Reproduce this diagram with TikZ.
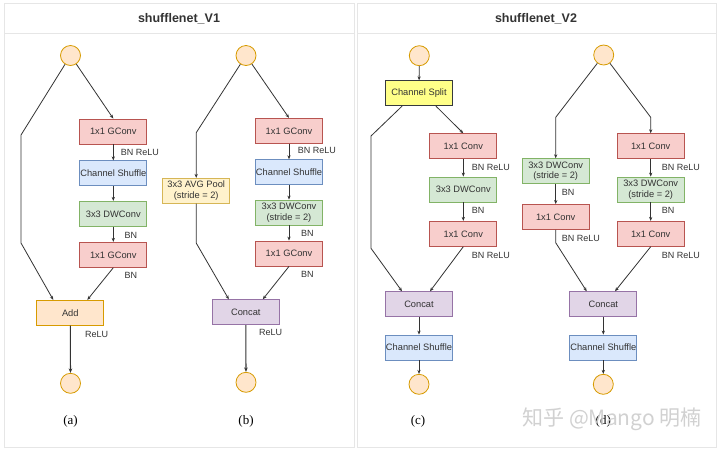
\documentclass[tikz,border=0pt]{standalone}
\usepackage{fontspec}
\setmainfont{Liberation Sans}
\newfontfamily\capfont{Liberation Serif}
\newfontfamily\cjk{Noto Sans CJK SC}
\usetikzlibrary{arrows.meta,calc}
\definecolor{redF}{HTML}{F8CECC}\definecolor{redD}{HTML}{B85450}
\definecolor{bluF}{HTML}{DAE8FC}\definecolor{bluD}{HTML}{6C8EBF}
\definecolor{grnF}{HTML}{D5E8D4}\definecolor{grnD}{HTML}{82B366}
\definecolor{orgF}{HTML}{FFE6CC}\definecolor{orgD}{HTML}{D79B00}
\definecolor{purF}{HTML}{E1D5E7}\definecolor{purD}{HTML}{9673A6}
\definecolor{yelF}{HTML}{FFF2CC}\definecolor{yelD}{HTML}{D6B656}
\definecolor{splF}{HTML}{FFFF88}\definecolor{splD}{HTML}{36393D}
\definecolor{ink}{HTML}{333333}
\definecolor{panelD}{HTML}{E6E6E6}
\tikzset{
  box/.style={draw, line width=0.8pt, minimum width=67pt, minimum height=25pt, inner sep=0pt,
    align=center, font=\fontsize{9.3}{10.5}\selectfont, text=ink},
  gconv/.style={box, fill=redF, draw=redD},
  shufbox/.style={box, fill=bluF, draw=bluD},
  dwbox/.style={box, fill=grnF, draw=grnD},
  addbox/.style={box, fill=orgF, draw=orgD},
  catbox/.style={box, fill=purF, draw=purD},
  poolbox/.style={box, fill=yelF, draw=yelD},
  splitbox/.style={box, fill=splF, draw=splD},
  circ/.style={circle, draw=orgD, fill=orgF, line width=0.8pt, minimum size=20pt, inner sep=0pt},
  lab/.style={anchor=west, inner sep=0pt, font=\fontsize{9}{10}\selectfont, text=ink},
  subcap/.style={inner sep=0pt, font=\capfont\fontsize{13}{14}\selectfont, text=black},
  ttl/.style={inner sep=0pt, font=\bfseries\fontsize{12.5}{14}\selectfont, text=ink},
  arr/.style={draw=ink, line width=0.8pt, -{Stealth[length=4pt,width=3.2pt]}},
  arrb/.style={draw=ink, line width=1.1pt, -{Stealth[length=4.5pt,width=3.6pt]}}
}
\begin{document}
\begin{tikzpicture}[x=1pt,y=-1pt]
\useasboundingbox (0,0) rectangle (720,451);
\fill[white] (0,0) rectangle (720,451);
% panels
\draw[panelD, line width=1pt] (4,3) rectangle (354,447);
\draw[panelD, line width=1pt] (357,3) rectangle (716,447);
\draw[panelD, line width=0.8pt] (4,33) -- (354,33);
\draw[panelD, line width=0.8pt] (357,33) -- (716,33);
\node[ttl] (t1) at (179,18.5) {shufflenet\_V1};
\node[ttl] (t2) at (536,18.5) {shufflenet\_V2};

% ---------- (a)
\node[circ] (ain) at (70.5,55.5) {};
\node[gconv] (ag1) at (113.3,131.5) {1x1 GConv};
\node[shufbox] (ash) at (113.3,173.3) {Channel Shuffle};
\node[dwbox] (adw) at (113.3,213.8) {3x3 DWConv};
\node[gconv] (ag2) at (113.3,254.8) {1x1 GConv};
\node[addbox] (aadd) at (70.3,312.8) {Add};
\node[circ] (aout) at (70.5,383.3) {};
\coordinate (al1) at (21,135);
\coordinate (al2) at (21,243);
\draw[arr] (ain) -- (ag1.north);
\draw[arr] (ag1) -- (ash);
\draw[arr] (ash) -- (adw);
\draw[arr] (adw) -- (ag2);
\draw[arr] (ain) -- (al1) -- (al2) -- ($(aadd.north)+(-17,0)$);
\draw[arr] (ag2.south) -- ($(aadd.north)+(17,0)$);
\draw[arrb] (aadd) -- (aout);
\node[lab] (la1) at (120.7,152) {BN ReLU};
\node[lab] (la2) at (124.3,235) {BN};
\node[lab] (la3) at (124.3,275.7) {BN};
\node[lab] (la4) at (85,334) {ReLU};
\node[subcap] (ca) at (70.5,421) {(a)};

% ---------- (b)
\node[circ] (bin) at (246,55.5) {};
\node[gconv] (bg1) at (289,130.8) {1x1 GConv};
\node[shufbox] (bsh) at (289,172.2) {Channel Shuffle};
\node[dwbox] (bdw) at (289,212.5) {3x3 DWConv\\(stride = 2)};
\node[gconv] (bg2) at (289,253.5) {1x1 GConv};
\node[poolbox] (bpool) at (196.2,190.8) {3x3 AVG Pool\\(stride = 2)};
\node[catbox] (bcat) at (245.8,312.2) {Concat};
\node[circ] (bout) at (246,382.3) {};
\coordinate (bl1) at (196.2,132.7);
\coordinate (bl2) at (196.2,243);
\draw[arr] (bin) -- (bg1.north);
\draw[arr] (bg1) -- (bsh);
\draw[arr] (bsh) -- (bdw);
\draw[arr] (bdw) -- (bg2);
\draw[arr] (bin) -- (bl1) -- (bpool.north);
\draw[arr] (bpool.south) -- (bl2) -- ($(bcat.north)+(-17,0)$);
\draw[arr] (bg2.south) -- ($(bcat.north)+(17,0)$);
\draw[arrb] (bcat) -- (bout);
\node[lab] (lb1) at (297.7,150.7) {BN ReLU};
\node[lab] (lb2) at (301,233.3) {BN};
\node[lab] (lb3) at (301,274) {BN};
\node[lab] (lb4) at (259,332.7) {ReLU};
\node[subcap] (cb) at (246,421) {(b)};

% ---------- (c)
\node[circ] (cin) at (419.3,55.7) {};
\node[splitbox] (csplit) at (419,93.3) {Channel Split};
\node[gconv] (c1) at (463.3,146.2) {1x1 Conv};
\node[dwbox] (cdw) at (463.3,189.5) {3x3 DWConv};
\node[gconv] (c2) at (463.3,233.8) {1x1 Conv};
\node[catbox] (ccat) at (419,304.2) {Concat};
\node[shufbox] (csh) at (419,347.5) {Channel Shuffle};
\node[circ] (cout) at (419,384.3) {};
\coordinate (cl1) at (371,136);
\coordinate (cl2) at (371,248.3);
\draw[arr] (cin) -- (csplit);
\draw[arr] ($(csplit.south)+(17,0)$) -- (c1.north);
\draw[arr] (c1) -- (cdw);
\draw[arr] (cdw) -- (c2);
\draw[arr] ($(csplit.south)+(-17,0)$) -- (cl1) -- (cl2) -- ($(ccat.north)+(-17,0)$);
\draw[arr] (c2.south) -- ($(ccat.north)+(11,0)$);
\draw[arr] (ccat) -- (csh);
\draw[arr] (csh) -- (cout);
\node[lab] (lc1) at (471.7,167.3) {BN ReLU};
\node[lab] (lc2) at (471.7,210.7) {BN};
\node[lab] (lc3) at (471.7,255) {BN ReLU};
\node[subcap] (cc) at (418,421) {(c)};

% ---------- (d)
\node[circ] (din) at (603.7,55) {};
\node[dwbox] (ddw) at (555.7,171.2) {3x3 DWConv\\(stride = 2)};
\node[gconv] (dc1) at (555.7,217) {1x1 Conv};
\node[gconv] (d1) at (650.7,146.2) {1x1 Conv};
\node[dwbox] (ddw2) at (650.7,189.5) {3x3 DWConv\\(stride = 2)};
\node[gconv] (d2) at (650.7,233.8) {1x1 Conv};
\node[catbox] (dcat) at (603.3,304.2) {Concat};
\node[shufbox] (dsh) at (603.3,347.5) {Channel Shuffle};
\node[circ] (dout) at (603.3,384.3) {};
\coordinate (dl1) at (555.7,117.3);
\coordinate (dl2) at (555.7,242.7);
\coordinate (dr1) at (650.7,117.3);
\draw[arr] (din) -- (dl1) -- (ddw.north);
\draw[arr] (ddw) -- (dc1);
\draw[arr] (dc1.south) -- (dl2) -- ($(dcat.north)+(-16.6,0)$);
\draw[arr] (din) -- (dr1) -- (d1.north);
\draw[arr] (d1) -- (ddw2);
\draw[arr] (ddw2) -- (d2);
\draw[arr] (d2.south) -- ($(dcat.north)+(11.7,0)$);
\draw[arr] (dcat) -- (dsh);
\draw[arr] (dsh) -- (dout);
\node[lab] (ld1) at (561.7,192.7) {BN};
\node[lab] (ld2) at (561.7,238.3) {BN ReLU};
\node[lab] (ld3) at (661.7,167.3) {BN ReLU};
\node[lab] (ld4) at (661.7,210.7) {BN};
\node[lab] (ld5) at (661.7,255) {BN ReLU};
\node[subcap] (cd) at (603.3,421) {(d)};

% watermark (overlaps the (d) caption, as in the reference)
\node[inner sep=0pt, text=black!20, opacity=0.9, font=\cjk\fontsize{21}{23}\selectfont] (wm) at (612,419) {知乎 @Mango 明楠};
\end{tikzpicture}
\end{document}
